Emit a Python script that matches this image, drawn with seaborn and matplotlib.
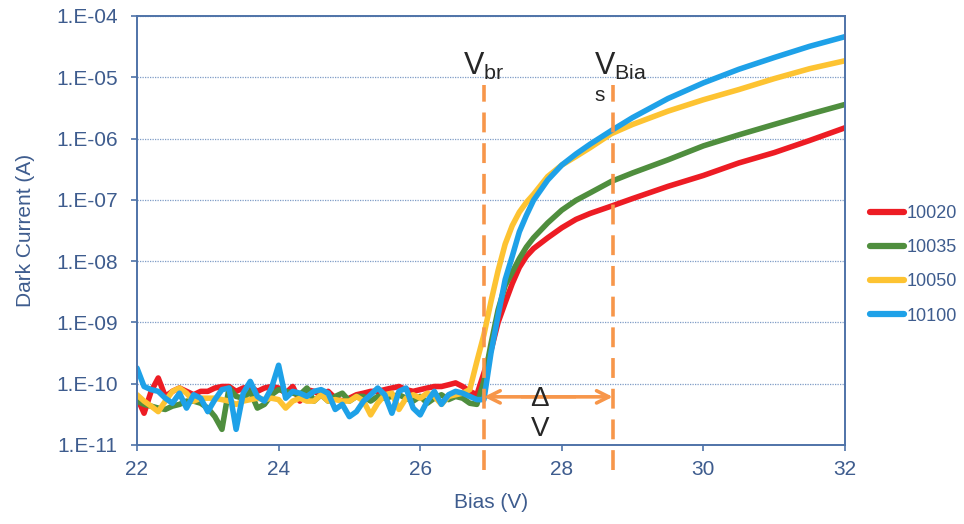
import numpy as np
import pandas as pd
import matplotlib
matplotlib.use('Agg')
import matplotlib.pyplot as plt
import seaborn as sns
from matplotlib.ticker import FixedLocator, FuncFormatter

samples = ['10020', '10035', '10050', '10100']
colors = ['#ED1C24', '#4F8E3E', '#FDC332', '#1EA1E8']

# bias points: 0.1 V steps through the flat noise part, coarser after breakdown
bias_noise = list(np.round(np.arange(22.0, 26.85, 0.1), 1))
bias_rise = [26.9, 27.0, 27.1, 27.2, 27.3, 27.4, 27.5, 27.6, 27.8, 28.0,
             28.2, 28.4, 28.7, 29.0, 29.5, 30.0, 30.5, 31.0, 31.5, 32.0]

red_noise = [6.0e-11, 3.3e-11, 7.5e-11, 1.24e-10, 6.2e-11, 7.5e-11, 8.5e-11, 7.5e-11, 6.6e-11, 7.5e-11,
             7.5e-11, 8.5e-11, 9.0e-11, 9.0e-11, 7.5e-11, 8.5e-11, 9.0e-11, 7.5e-11, 8.5e-11, 9.0e-11,
             8.5e-11, 7.0e-11, 9.0e-11, 5.2e-11, 8.0e-11, 7.5e-11, 6.6e-11, 7.5e-11, 5.8e-11, 5.2e-11,
             5.8e-11, 6.6e-11, 7.0e-11, 7.5e-11, 7.5e-11, 8.0e-11, 8.5e-11, 9.0e-11, 8.0e-11, 7.5e-11,
             8.0e-11, 8.5e-11, 9.0e-11, 9.0e-11, 9.6e-11, 1.03e-10, 9.0e-11, 7.5e-11, 6.6e-11]
green_noise = [5.2e-11, 4.6e-11, 4.3e-11, 4.0e-11, 3.8e-11, 4.3e-11, 4.6e-11, 5.2e-11, 5.2e-11, 4.8e-11,
               4.0e-11, 2.9e-11, 1.8e-11, 8.5e-11, 6.2e-11, 5.8e-11, 7.5e-11, 4.0e-11, 4.6e-11, 6.6e-11,
               8.0e-11, 7.5e-11, 7.0e-11, 6.6e-11, 8.5e-11, 5.2e-11, 6.6e-11, 5.2e-11, 6.2e-11, 7.0e-11,
               5.2e-11, 6.2e-11, 6.2e-11, 5.2e-11, 6.2e-11, 5.8e-11, 6.2e-11, 6.6e-11, 5.8e-11, 5.2e-11,
               6.2e-11, 4.8e-11, 5.8e-11, 6.6e-11, 5.5e-11, 6.2e-11, 5.8e-11, 4.8e-11, 4.6e-11]
yellow_noise = [6.6e-11, 5.2e-11, 4.3e-11, 3.5e-11, 5.2e-11, 7.5e-11, 8.5e-11, 7.0e-11, 5.2e-11, 5.8e-11,
                5.8e-11, 5.8e-11, 5.5e-11, 5.2e-11, 4.6e-11, 5.2e-11, 5.5e-11, 5.8e-11, 5.5e-11, 5.8e-11,
                5.5e-11, 4.0e-11, 5.2e-11, 5.8e-11, 5.2e-11, 5.2e-11, 6.6e-11, 5.2e-11, 5.5e-11, 5.2e-11,
                5.2e-11, 6.2e-11, 5.2e-11, 3.1e-11, 4.8e-11, 6.6e-11, 7.0e-11, 3.8e-11, 5.8e-11, 6.6e-11,
                5.8e-11, 7.0e-11, 6.2e-11, 4.6e-11, 6.2e-11, 6.6e-11, 7.0e-11, 8.0e-11, 2.3e-10]
blue_noise = [1.8e-10, 9.0e-11, 8.0e-11, 7.5e-11, 5.8e-11, 4.8e-11, 7.0e-11, 4.0e-11, 6.6e-11, 5.8e-11,
              3.5e-11, 5.5e-11, 8.0e-11, 8.5e-11, 1.8e-11, 7.0e-11, 1.09e-10, 6.2e-11, 5.2e-11, 8.5e-11,
              2.0e-10, 5.8e-11, 7.5e-11, 7.0e-11, 6.2e-11, 7.5e-11, 8.0e-11, 7.0e-11, 3.8e-11, 4.6e-11,
              2.9e-11, 3.5e-11, 5.2e-11, 6.6e-11, 8.5e-11, 6.6e-11, 3.3e-11, 7.5e-11, 8.5e-11, 4.0e-11,
              3.1e-11, 5.2e-11, 7.5e-11, 4.6e-11, 6.6e-11, 7.5e-11, 7.0e-11, 6.2e-11, 5.5e-11]

red_rise = [1.5e-10, 3.5e-10, 1.0e-9, 2.1e-9, 4.3e-9, 7.9e-9, 1.2e-8, 1.6e-8, 2.4e-8, 3.5e-8,
            4.8e-8, 6.0e-8, 7.9e-8, 1.05e-7, 1.66e-7, 2.5e-7, 4.0e-7, 5.9e-7, 9.3e-7, 1.5e-6]
green_rise = [1.1e-10, 4.5e-10, 1.6e-9, 4.0e-9, 6.6e-9, 1.1e-8, 1.7e-8, 2.4e-8, 4.2e-8, 6.8e-8,
              9.8e-8, 1.3e-7, 2.0e-7, 2.75e-7, 4.5e-7, 7.6e-7, 1.15e-6, 1.7e-6, 2.5e-6, 3.6e-6]
yellow_rise = [6.3e-10, 2.2e-9, 7.0e-9, 1.9e-8, 3.8e-8, 6.3e-8, 9.1e-8, 1.23e-7, 2.4e-7, 3.7e-7,
               5.1e-7, 7.1e-7, 1.2e-6, 1.7e-6, 2.8e-6, 4.3e-6, 6.3e-6, 9.5e-6, 1.38e-5, 1.86e-5]
blue_rise = [5.5e-11, 3.2e-10, 1.3e-9, 5.0e-9, 1.2e-8, 3.0e-8, 5.6e-8, 9.8e-8, 2.1e-7, 3.7e-7,
             5.6e-7, 8.1e-7, 1.35e-6, 2.2e-6, 4.5e-6, 8.1e-6, 1.35e-5, 2.1e-5, 3.2e-5, 4.6e-5]

v_br = 26.9      # breakdown voltage marker
v_bias = 28.72   # operating bias marker
dv_level = 6.1e-11

bias = bias_noise + bias_rise
currents = [red_noise + red_rise, green_noise + green_rise,
            yellow_noise + yellow_rise, blue_noise + blue_rise]
df = pd.concat([pd.DataFrame({'bias': bias, 'current': c, 'sample': s})
                for s, c in zip(samples, currents)])

sns.set_style('white')
plt.rcParams['font.family'] = ['Liberation Sans', 'DejaVu Sans']
txt_col = '#3E5C8E'
spine_col = '#4F73A8'
orange = '#F7964A'

fig = plt.figure(figsize=(9.64, 5.24), dpi=100)
ax = fig.add_axes([0.1421, 0.1508, 0.7345, 0.8187])

sns.lineplot(data=df, x='bias', y='current', hue='sample', hue_order=samples,
             palette=dict(zip(samples, colors)), estimator=None, sort=False,
             linewidth=4.0, ax=ax)
for ln in ax.get_lines():
    ln.set_solid_joinstyle('round')
    ln.set_solid_capstyle('round')

ax.set_yscale('log')
ax.set_xlim(22, 32)
ax.set_ylim(1e-11, 1e-4)
ax.xaxis.set_major_locator(FixedLocator([22, 24, 26, 28, 30, 32]))
ax.yaxis.set_major_locator(FixedLocator([10.0 ** k for k in range(-11, -3)]))
ax.yaxis.set_minor_locator(FixedLocator([]))
ax.yaxis.set_major_formatter(FuncFormatter(lambda v, p: '1.E{:03d}'.format(int(round(np.log10(v))))))
ax.xaxis.set_major_formatter(FuncFormatter(lambda v, p: '{:d}'.format(int(v))))

ax.grid(axis='y', color='#7F9CC6', linestyle=(0, (1, 1)), linewidth=0.9)
ax.grid(axis='x', visible=False)
for sp in ax.spines.values():
    sp.set_color(spine_col)
    sp.set_linewidth(1.4)
ax.tick_params(axis='both', colors=spine_col, labelcolor=txt_col, labelsize=15,
               direction='out', length=4, width=1.2)
ax.tick_params(axis='y', pad=10, left=True)
ax.tick_params(axis='x', pad=7, bottom=True)

ax.set_xlabel('Bias (V)', fontsize=15, color=txt_col, labelpad=10)
ax.set_ylabel('Dark Current (A)', fontsize=15, color=txt_col, labelpad=15)

# voltage markers
for v in (v_br, v_bias):
    ax.axvline(v, ymin=-0.058, ymax=0.84, clip_on=False, color=orange,
               linewidth=2.6, linestyle=(0, (5.5, 3)))

ax.text(v_br, 1.5e-5, r'$\mathregular{V_{br}}$', fontsize=22, ha='center', va='center')
ax.text(28.45, 1.5e-5, r'$\mathregular{V_{Bia}}$', fontsize=22, ha='left', va='center')
ax.text(28.53, 5.1e-6, 's', fontsize=15, ha='center', va='center')

ax.annotate('', xy=(v_br, dv_level), xytext=(v_bias, dv_level),
            arrowprops=dict(arrowstyle='<->', color=orange, lw=2.6,
                            mutation_scale=22, shrinkA=0, shrinkB=0))
ax.plot([27.42, 28.2], [dv_level, dv_level], color='#F9C7A0', linewidth=2.6, solid_capstyle='butt')
ax.text(27.69, 5.6e-11, '\u0394', fontsize=20, ha='center', va='center')
ax.text(27.69, 1.85e-11, 'V', fontsize=20, ha='center', va='center')

sns.move_legend(ax, 'center left', bbox_to_anchor=(1.035, 0.42), frameon=False,
                title=None, fontsize=13, labelcolor=txt_col, handlelength=1.9,
                handletextpad=0.15, labelspacing=0.95, borderpad=0, borderaxespad=0)
for h in ax.get_legend().get_lines():
    h.set_linewidth(4.5)
    h.set_solid_capstyle('round')

fig.savefig('out.png', dpi=100)
